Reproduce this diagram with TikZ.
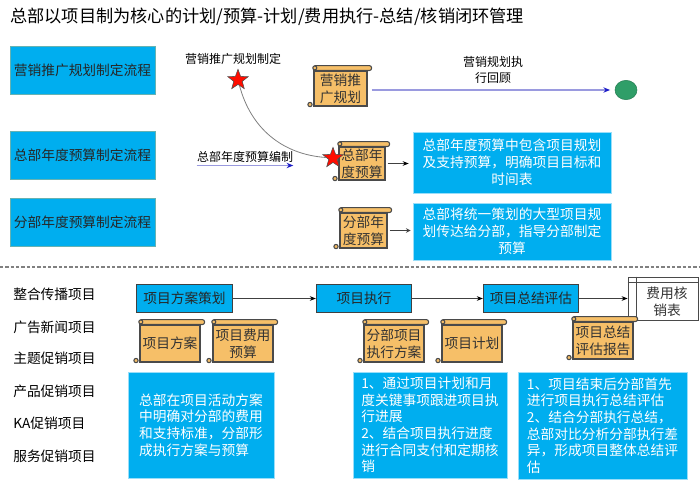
\documentclass[tikz,border=0pt]{standalone}
\usepackage{fontspec}
\setmainfont{Noto Sans CJK SC}
\usetikzlibrary{arrows.meta,shapes.geometric}
\definecolor{panelblue}{HTML}{00AEEF}
\definecolor{scrollfill}{HTML}{F6BF68}
\definecolor{scrolledge}{HTML}{4A4A4A}
\definecolor{planline}{HTML}{9A9ADF}
\definecolor{plantip}{HTML}{1C1CC8}
\definecolor{dotgreen}{HTML}{2F9E68}
\begin{document}
\begin{tikzpicture}[x=0.75pt, y=-0.75pt, >=stealth]
        % --- Styles ---
        \tikzset{
            title/.style={font=\fontsize{12.9}{16}\selectfont, anchor=west, inner sep=0pt},
            flow_box/.style={draw=teal!60, line width=0.5pt, fill=panelblue, minimum width=108.75pt, minimum height=36pt, inner sep=0pt, font=\fontsize{10.3}{13}\selectfont, text=black!85},
            desc_box/.style={draw=cyan!40, line width=0.5pt, fill=panelblue, text=white, inner sep=0pt, align=center, font=\fontsize{10.3}{12.9}\selectfont},
            desc_left/.style={desc_box, align=left, font=\fontsize{10.3}{12.5}\selectfont},
            step_box/.style={draw=black!75, line width=0.8pt, fill=panelblue, minimum width=71.5pt, minimum height=21.5pt, inner sep=0pt, font=\fontsize{10.3}{13}\selectfont, text=black!85},
            side_label/.style={anchor=west, inner sep=0pt, font=\fontsize{10.3}{13}\selectfont, text=black},
            small_label/.style={inner sep=0pt, align=center, font=\fontsize{9}{11.5}\selectfont, text=black},
            star_mark/.style={star, star points=5, star point ratio=2.4, draw=black!70, line width=0.4pt, fill=red!90!orange, minimum size=16pt, inner sep=0pt},
            flow_arrow/.style={draw=black!75, line width=0.6pt, -{Stealth[length=4.5pt,width=3.5pt,color=black]}},
            plan_arrow/.style={draw=planline, line width=1.2pt, -{Stealth[length=5pt,width=4pt,color=plantip]}},
            scroll/.style={draw=scrolledge, line width=0.8pt, fill=scrollfill, inner sep=0pt, align=center,
                font=\fontsize{10.3}{12.9}\selectfont, text=black!80, minimum width=#1},
            scroll/.default=45pt,
            scroll_part/.style={draw=scrolledge, line width=0.8pt, fill=scrollfill}
        }

        \useasboundingbox (0,0) rectangle (700,489);

        % =====================================================================
        % TITRE
        % =====================================================================
        \node[title] (main_title) at (10,17) {总部以项目制为核心的计划/预算-计划/费用执行-总结/核销闭环管理};

        % =====================================================================
        % BLOC HAUT : PROCESSUS ANNUELS
        % =====================================================================
        \node[flow_box] (flow_plan) at (82.5,70) {营销推广规划制定流程};
        \node[flow_box] (flow_hq) at (82.5,155) {总部年度预算制定流程};
        \node[flow_box] (flow_branch) at (82.5,222.5) {分部年度预算制定流程};

        % Rouleaux
        \node[scroll=39.75pt, minimum height=26.25pt] (scroll_plan) at (340.5,88.5) {营销推\\广规划};
        \node[scroll=34.5pt, minimum height=24.75pt] (scroll_hq) at (362,163.5) {总部年\\度预算};
        \node[scroll=35.25pt, minimum height=26.25pt] (scroll_branch) at (363.5,230.5) {分部年\\度预算};

        % Fin de la ligne
        \node[ellipse, draw=dotgreen!80!black, line width=0.4pt, fill=dotgreen, minimum width=16.5pt, minimum height=14.5pt, inner sep=0pt] (end_dot) at (626,90) {};
        \draw[plan_arrow, shorten <=3pt, shorten >=3.5pt] (scroll_plan.east |- end_dot) -- (end_dot);
        \node[small_label] (review_label) at (493,70) {营销规划执\\行回顾};

        % Descriptions
        \node[desc_box, minimum width=148.5pt, minimum height=45.75pt] (desc_hq) at (512,162.5) {总部年度预算中包含项目规划\\及支持预算，明确项目目标和\\时间表};
        \node[desc_box, minimum width=148.5pt, minimum height=43pt] (desc_branch) at (512,231.5) {总部将统一策划的大型项目规\\划传达给分部，指导分部制定\\预算};
        \draw[flow_arrow, shorten <=1.5pt, shorten >=3pt] (scroll_hq.east) -- (scroll_hq.east -| desc_hq.west);
        \draw[->, draw=black!75, line width=0.6pt, shorten <=1.5pt, shorten >=1.5pt] (scroll_branch.east) -- (scroll_branch.east -| desc_branch.west);

        % =====================================================================
        % SEPARATEUR
        % =====================================================================
        \coordinate (sep_left) at (0,267);
        \coordinate (sep_right) at (700,267);
        \draw[dashed, gray, line width=0.8pt, dash pattern=on 2.5pt off 1.5pt] (sep_left) -- (sep_right);

        % =====================================================================
        % BLOC BAS : PROJETS
        % =====================================================================
        \foreach \i/\y/\t in {1/294/整合传播项目, 2/327/广告新闻项目, 3/358/主题促销项目, 4/391/产品促销项目, 5/423/KA促销项目, 6/456/服务促销项目} {
            \node[side_label] (item\i) at (13,\y) {\t};
        }

        % Etapes
        \node[step_box] (step_plan) at (184.5,298.5) {项目方案策划};
        \node[step_box] (step_run) at (364,298.5) {项目执行};
        \node[step_box] (step_review) at (531,298.5) {项目总结评估};
        \node[draw=scrolledge, line width=0.6pt, fill=white, minimum width=52.5pt, minimum height=32.25pt, inner sep=0pt] (cost_table) at (663,298.5) {};
        \draw[draw=scrolledge, line width=0.6pt] ([xshift=6.75pt]cost_table.north west) -- ([xshift=6.75pt]cost_table.south west);
        \draw[draw=scrolledge, line width=0.6pt] ([yshift=-4.5pt]cost_table.north west) -- ([yshift=-4.5pt]cost_table.north east);
        \node[inner sep=0pt, align=center, font=\fontsize{10.3}{12.9}\selectfont, text=black!80] (cost_text) at (667,301.5) {费用核\\销表};

        \draw[flow_arrow] (step_plan) -- (step_run);
        \draw[flow_arrow] (step_run) -- (step_review);
        \draw[flow_arrow] (step_review) -- (cost_table);

        % Rouleaux du bas
        \node[scroll=45pt, minimum height=27.75pt] (doc_scheme) at (170,343.5) {项目方案};
        \node[scroll=45pt, minimum height=27.75pt] (doc_budget) at (243,343.5) {项目费用\\预算};
        \node[scroll=45pt, minimum height=27.75pt] (doc_branch) at (394,343.5) {分部项目\\执行方案};
        \node[scroll=45pt, minimum height=27.75pt] (doc_schedule) at (472,343.5) {项目计划};
        \node[scroll=45pt, minimum height=27.75pt] (doc_report) at (603,340.5) {项目总结\\评估报告};

        % Barre et boucles de chaque rouleau
        \foreach \s in {scroll_plan,scroll_hq,scroll_branch,doc_scheme,doc_budget,doc_branch,doc_schedule,doc_report} {
            \draw[scroll_part, rounded corners=1.5pt] ([yshift=3.6pt,xshift=3pt]\s.north east) rectangle (\s.north west);
            \draw[scroll_part] ([xshift=1pt,yshift=1.9pt]\s.north west) circle[radius=1.5pt];
            \draw[scroll_part] ([xshift=-2.6pt,yshift=1.5pt]\s.south west) circle[radius=1.6pt];
        }

        % Etoiles et courbe
        \node[small_label] (plan_label) at (233,59) {营销推广规划制定};
        \node[small_label] (budget_label) at (245,157) {总部年度预算编制};
        \coordinate (budget_start) at ([yshift=-2pt]budget_label.south west);
        \coordinate (budget_end) at ([yshift=-2pt]budget_label.south east);
        \draw[plan_arrow] (budget_start) -- (budget_end);
        \node[star_mark] (star_plan) at (238,80) {};
        \node[star_mark] (star_hq) at (333,158) {};
        \draw[gray, line width=0.6pt] (star_plan) to[out=-75, in=176] (star_hq);

        % Textes du bas
        \node[desc_left, minimum width=109.5pt, minimum height=79.5pt] (note_plan) at (201,425) {总部在项目活动方案\\中明确对分部的费用\\和支持标准，分部形\\成执行方案与预算};
        \node[desc_left, minimum width=115.5pt, minimum height=79.5pt] (note_run) at (430,425) {1、通过项目计划和月\\度关键事项跟进项目执\\行进展\\2、结合项目执行进度\\进行合同支付和定期核\\销};
        \node[desc_left, minimum width=126.75pt, minimum height=80.25pt] (note_review) at (602.5,425.5) {1、项目结束后分部首先\\进行项目执行总结评估\\2、结合分部执行总结，\\总部对比分析分部执行差\\异，形成项目整体总结评\\估};

    \end{tikzpicture}
\end{document}
